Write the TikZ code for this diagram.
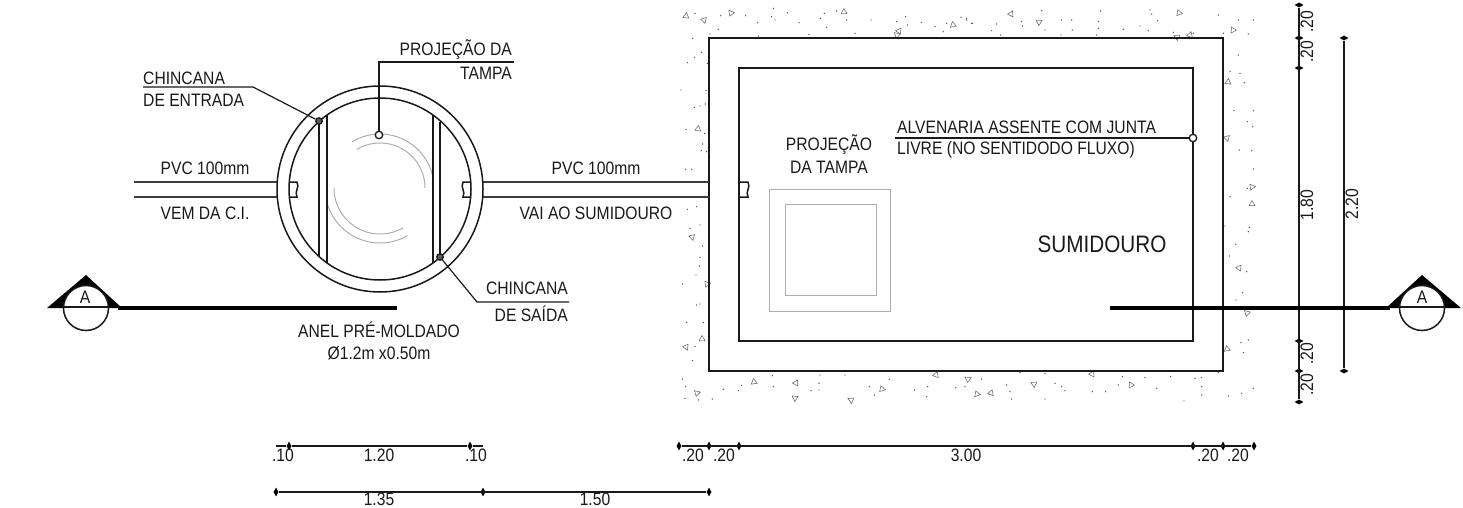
\documentclass[tikz,border=0pt]{standalone}
\usepackage{fontspec}
\setmainfont[FakeStretch=0.87]{Liberation Sans}
\usetikzlibrary{shapes.geometric}

\definecolor{ink}{gray}{0.1}
\definecolor{tampa}{gray}{0.68}

\tikzset{
  wall/.style={draw=ink,line width=1.8pt},
  ring/.style={draw=ink,line width=1.5pt},
  pipe/.style={draw=ink!85,line width=1.5pt},
  lid/.style={draw=tampa,line width=1pt},
  leader/.style={draw=ink,line width=1.2pt},
  dimline/.style={draw=ink,line width=1.2pt},
  cutline/.style={draw=black,line width=4.5pt},
  soil/.style={draw=ink!70,line width=0.5pt},
  dotmark/.style={circle,draw=ink,fill=white,line width=1.3pt,inner sep=0pt,minimum size=7.5pt},
  dotdark/.style={dotmark,fill=ink!70,minimum size=6.5pt},
  tickv/.style={diamond,fill=black,inner sep=0pt,minimum width=9pt,minimum height=5pt},
  tickh/.style={diamond,fill=black,inner sep=0pt,minimum width=5pt,minimum height=9pt},
  txt/.style={inner sep=0pt,text=ink,font=\fontsize{18}{21}\selectfont},
  bigtxt/.style={txt,font=\fontsize{23.8}{28}\selectfont}
}

\begin{document}
\begin{tikzpicture}[x=1pt,y=-1pt]
  \useasboundingbox (0,0) rectangle (1463,508);

  \foreach \x/\y in {645/40,722/47,797/47,833/68,880/25,875/50,885/60,922/38,957/68,1033/40,1022/55,1040/82,1070/33,1100/60,1173/60,1250/65,1277/50,1283/75,1325/67,1365/80,1390/95,1400/70,1443/52,1460/60,1478/70,715/88,690/102,835/108,987/103,1125/100,638/115,665/157,643/172,622/188,682/190,603/270,678/272,643/322,660/318,676/312,618/388,674/400,668/432,664/452,680/455,617/508,635/508,622/628,650/620,630/685,660/675,667/738,660/772,658/798,648/825,607/852,650/915,660/912,620/967,670/968,645/1040,638/1082,607/1137,617/1160,615/1195,655/1200,697/1197,730/1168,785/1157,775/1172,877/1127,880/1160,1020/1125,1017/1150,1017/1170,993/1172,1095/1125,1228/1138,1168/1160,1183/1185,1303/1170,1343/1160,1340/1190,1427/1163,1455/1160}
    \fill[ink!80] ({480+\x/3},{\y/3}) circle [radius=0.7];
  \foreach \x/\y in {35/70,20/55,110/72,95/92,122/105,185/65,188/78,245/32,255/90,305/60,335/60,337/90,303/105,410/105,415/65,422/33,415/85,490/88,540/78,565/92,570/30,575/42,593/62,640/97,700/100,775/45,790/100,835/60,880/60,865/102,835/165,810/215,840/220,853/248,822/332,880/332,862/365,878/380,838/450,875/452,880/507,862/565,810/590,868/682,865/695,795/678,827/733,808/768,860/815,848/878,828/900,843/1028,865/1020,850/1058,140/1155,150/1175,155/1197,65/1137,180/1118,255/1120,285/1150,305/1160,315/1172,397/1175,437/1175,487/1130,475/1155,555/1133,590/1165,632/1130,705/1135,725/1133,725/1160,725/1185,672/1203,775/1118,805/1188,845/1180,880/1165,255/1197}
    \fill[ink!80] ({960+\x/3},{\y/3}) circle [radius=0.7];
  \foreach \x/\y [count=\c] in {686/16,704/20,731/13,844/12,899/31,897/35,953/25,1011/14,1039/22,1179/13,1190/35,1177/37,1233/30,1228/82,1227/138,1252/187,1252/204,1239/268,1247/313,1227/349,1092/374,968/379,977/394,991/393,1034/384,1131/385,698/129,692/237,707/284,702/339,686/347,697/393,754/382,796/383,795/398,882/389,936/375,851/400}
    \draw[soil] (\x,\y) ++({37*\c}:3.5) -- ++({37*\c+150}:6) -- ++({37*\c+270}:6) -- cycle;

  \draw[wall] (709,38) rectangle (1223,371);
  \draw[wall] (739,68) rectangle (1193,341);
  \draw[lid] (769,189) rectangle (890,311);
  \draw[lid] (785,204) rectangle (876,295);

  \draw[pipe] (134,182) -- (277,182);
  \draw[pipe] (134,197) -- (277,197);
  \draw[pipe] (483,182) -- (709,182);
  \draw[pipe] (483,197) -- (709,197);

  \draw[lid,domain=-121:-10,samples=40] plot ({380+54*cos(\x)},{188+54*sin(\x)});
  \draw[lid,domain=-121:0,samples=40] plot ({380+45*cos(\x)},{188+45*sin(\x)});
  \draw[lid,domain=60:180,samples=40] plot ({380+46*cos(\x)},{188+46*sin(\x)});
  \draw[lid,domain=60:163,samples=40] plot ({380+55*cos(\x)},{188+55*sin(\x)});

  \draw[ring] (380,189) circle [radius=103];
  \draw[ring] (380,189) circle [radius=91];
  \draw[ring] (319,121.5) -- (319,256.5);
  \draw[ring] (327,115) -- (327,263);
  \draw[ring] (433,115) -- (433,263);
  \draw[ring] (440,122) -- (440,256);

  \draw[ring] (289,182) -- (297,182) .. controls (300,188) and (294,191) .. (297,197) -- (289,197);
  \draw[ring] (471,182) -- (463,182) .. controls (460,188) and (466,191) .. (463,197) -- (471,197);
  \draw[ring] (739,182) -- (748,182) .. controls (751,188) and (745,191) .. (748,197) -- (739,197);

  \node[dotdark] (dotentrada) at (319,121) {};
  \node[dotmark] (dottampa) at (379,135) {};
  \node[dotdark] (dotsaida) at (440,257) {};
  \node[dotmark] (dotjunta) at (1193,138) {};
  \coordinate (entradaA) at (143,87);
  \coordinate (entradaB) at (253,87);
  \coordinate (tampaA) at (514,62);
  \coordinate (tampaB) at (379,62);
  \coordinate (saidaA) at (569,302);
  \coordinate (saidaB) at (477,302);
  \coordinate (juntaA) at (895,138);
  \draw[leader] (entradaA) -- (entradaB) -- (dotentrada);
  \draw[leader] (tampaA) -- (tampaB) -- (dottampa);
  \draw[leader] (saidaA) -- (saidaB) -- (dotsaida);
  \draw[leader] (juntaA) -- (dotjunta);

  \node[txt,anchor=west] (chinA) at (143,78) {CHINCANA};
  \node[txt,anchor=west] (chinB) at (143,100) {DE ENTRADA};
  \node[txt,anchor=east] (projA) at (512,50) {PROJEÇÃO DA};
  \node[txt,anchor=east] (projB) at (512,73) {TAMPA};
  \node[txt,anchor=east] (saiA) at (568,288) {CHINCANA};
  \node[txt,anchor=east] (saiB) at (568,314) {DE SAÍDA};
  \node[txt] (pvcA) at (205,168) {PVC 100mm};
  \node[txt] (vemA) at (205,213) {VEM DA C.I.};
  \node[txt] (pvcB) at (596,168) {PVC 100mm};
  \node[txt] (vaiA) at (596,213) {VAI AO SUMIDOURO};
  \node[txt] (anelA) at (379,330) {ANEL PRÉ-MOLDADO};
  \node[txt] (anelB) at (379,353) {Ø1.2m x0.50m};
  \node[txt] (projC) at (829,145) {PROJEÇÃO};
  \node[txt] (projD) at (829,167) {DA TAMPA};
  \node[txt,anchor=west] (alvA) at (897,127) {ALVENARIA ASSENTE COM JUNTA};
  \node[txt,anchor=west] (alvB) at (897,150) {LIVRE (NO SENTIDODO FLUXO)};
  \node[bigtxt] (sumA) at (1102,244) {SUMIDOURO};

  \foreach \n/\y in {0/5,1/38,2/68,3/341,4/371,5/402}
    \node[tickv] (va\n) at (1299,\y) {};
  \node[tickv] (vb0) at (1344,38) {};
  \node[tickv] (vb1) at (1344,371) {};
  \draw[dimline] (va0) -- (va5);
  \draw[dimline] (vb0) -- (vb1);
  \node[txt,rotate=90] (dimA) at (1307,22) {.20};
  \node[txt,rotate=90] (dimB) at (1307,52) {.20};
  \node[txt,rotate=90] (dimC) at (1307,205) {1.80};
  \node[txt,rotate=90] (dimD) at (1307,354) {.20};
  \node[txt,rotate=90] (dimE) at (1307,385) {.20};
  \node[txt,rotate=90] (dimF) at (1352,204) {2.20};

  \coordinate (ha0) at (276,446);
  \node[tickh] (ha1) at (289,446) {};
  \node[tickh] (ha2) at (470,446) {};
  \coordinate (ha3) at (483,446);
  \draw[dimline] (ha0) -- (ha1) -- (ha2) -- (ha3);
  \foreach \n/\x in {0/679,1/709,2/739,3/1193,4/1223,5/1254}
    \node[tickh] (hb\n) at (\x,446) {};
  \draw[dimline] (hb0) -- (hb5);
  \foreach \n/\x in {0/276,1/483,2/709}
    \node[tickh] (hc\n) at (\x,492) {};
  \draw[dimline] (hc0) -- (hc2);
  \node[txt] (dimG) at (283,455) {.10};
  \node[txt] (dimH) at (379,455) {1.20};
  \node[txt] (dimI) at (476,455) {.10};
  \node[txt] (dimJ) at (693,455) {.20};
  \node[txt] (dimK) at (724,455) {.20};
  \node[txt] (dimL) at (966,455) {3.00};
  \node[txt] (dimM) at (1208,455) {.20};
  \node[txt] (dimN) at (1238,455) {.20};
  \node[txt] (dimO) at (379,499.5) {1.35};
  \node[txt] (dimP) at (595,499.5) {1.50};

  \coordinate (cutA) at (118,308);
  \coordinate (cutB) at (397,308);
  \coordinate (cutC) at (1110,308);
  \coordinate (cutD) at (1390,308);
  \draw[cutline] (cutA) -- (cutB);
  \draw[cutline] (cutC) -- (cutD);
  \fill[black] (47,308) -- (86,275) -- (122,308) -- cycle;
  \fill[black] (1386,308) -- (1422,275) -- (1461,308) -- cycle;
  \draw[ring,fill=white] (86,308) circle [radius=22.5];
  \draw[ring,fill=white] (1422,308) circle [radius=22.5];
  \draw[leader] (63.5,307) -- (108.5,307);
  \draw[leader] (1399.5,307) -- (1444.5,307);
  \node[txt] (secA) at (85,297) {A};
  \node[txt] (secB) at (1422,297) {A};
\end{tikzpicture}
\end{document}
